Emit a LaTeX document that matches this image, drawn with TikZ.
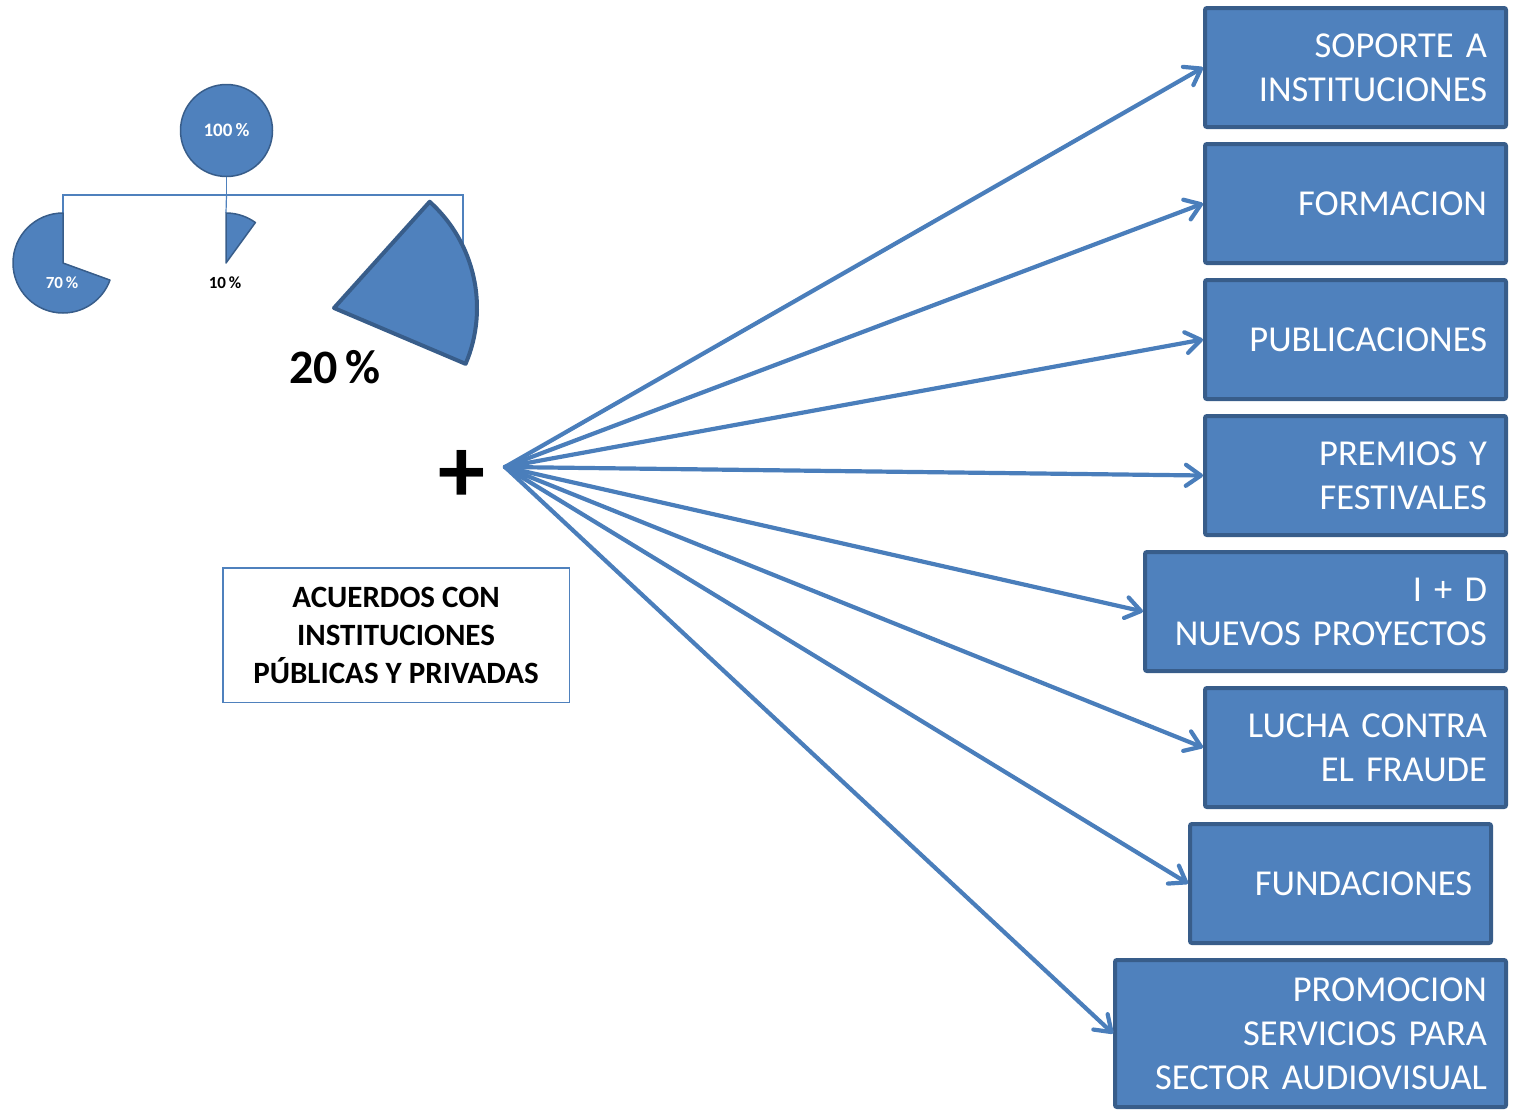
\documentclass[tikz,border=0pt]{standalone}
\usepackage{fontspec}
\setmainfont{Carlito}
\usetikzlibrary{arrows.meta,calc}
\definecolor{boxblue}{HTML}{4F81BD}
\definecolor{boxdark}{HTML}{385D8A}
\definecolor{arrowblue}{HTML}{4A7EBB}
\begin{document}
\begin{tikzpicture}[x=1pt,y=-1pt,
  bbox/.style={draw=boxdark,fill=boxblue,line width=4pt,rounded corners=2pt,
    minimum height=119pt,inner xsep=19pt,inner ysep=0pt,align=right,text=white,
    font=\fontsize{36.5}{44}\selectfont},
  link/.style={draw=arrowblue,line width=4.2pt,line cap=round,
    -{Straight Barb[length=15pt,width=21pt,round]}},
  tree/.style={draw=boxblue,line width=1.2pt},
  piece/.style={fill=boxblue,draw=boxdark,line width=1.5pt,line join=round},
  pct/.style={font=\bfseries\fontsize{17}{20}\selectfont,inner sep=0pt}]
\useasboundingbox (0,0) rectangle (1518,1111);

% pie tree
\coordinate (c70) at (63,263);
\coordinate (c10) at (226,263);
\coordinate (c20) at (334,308);
\coordinate (t70) at (63,213);
\coordinate (t10) at (226,213);
\coordinate (t20) at ($(c20)+(-25.6:143)$);
\node[circle,piece,minimum size=92pt,inner sep=0pt,text=white,
      font=\bfseries\fontsize{19}{22}\selectfont] (root) at (226.5,130.5) {100\,\%};
\coordinate (bar) at (226.5,195);
\draw[tree] (root.south) -- (bar);
\draw[tree] (t70) |- (bar) -| (t20);
\draw[tree] (bar) -- (t10);
\draw[piece] (c70) -- (t70) arc[start angle=-90,end angle=-340,radius=50] -- cycle;
\draw[piece] (c10) -- (t10) arc[start angle=-90,end angle=-54,radius=50] -- cycle;
\draw[fill=boxblue,draw=boxdark,line width=4pt,line join=round]
  (c20) -- ($(c20)+(-48:143)$) arc[start angle=-48,end angle=23,radius=143] -- cycle;
\node[pct,text=white] (l70) at (62,283) {70\,\%};
\node[pct] (l10) at (225,283) {10\,\%};
\node[font=\bfseries\fontsize{48}{52}\selectfont,inner sep=0pt] (l20) at (335,367) {20\,\%};

% plus and agreements
\node[font=\bfseries\fontsize{94}{100}\selectfont,inner sep=0pt] (plus) at (461.5,476) {+};
\node[draw=boxblue,line width=1.5pt,minimum width=346.5pt,minimum height=134.5pt,
      align=center,font=\bfseries\fontsize{31}{38}\selectfont,inner sep=0pt] (acuerdos) at (396,635)
  {ACUERDOS CON\\INSTITUCIONES\\PÚBLICAS Y PRIVADAS};

% target boxes
\node[bbox,text width=263pt] (b1) at (1355.5,67.5) {SOPORTE A\\INSTITUCIONES};
\node[bbox,text width=263pt] (b2) at (1355.5,203.5) {FORMACION};
\node[bbox,text width=263pt] (b3) at (1355.5,339.5) {PUBLICACIONES};
\node[bbox,text width=263pt] (b4) at (1355.5,475.5) {PREMIOS Y\\FESTIVALES};
\node[bbox,text width=323pt] (b5) at (1325.5,611.5) {I + D\\NUEVOS PROYECTOS};
\node[bbox,text width=263pt] (b6) at (1355.5,747.5) {LUCHA CONTRA\\EL FRAUDE};
\node[bbox,text width=263pt] (b7) at (1340.5,883.5) {FUNDACIONES};
\node[bbox,text width=353pt,minimum height=147pt] (b8) at (1310.5,1033.5) {PROMOCION\\SERVICIOS PARA\\SECTOR AUDIOVISUAL};

% connectors
\coordinate (hub) at (505,467);
\foreach \b in {b1,b2,b3,b4,b5,b6,b7,b8}
  \draw[link] (hub) -- (\b.west);
\end{tikzpicture}
\end{document}
